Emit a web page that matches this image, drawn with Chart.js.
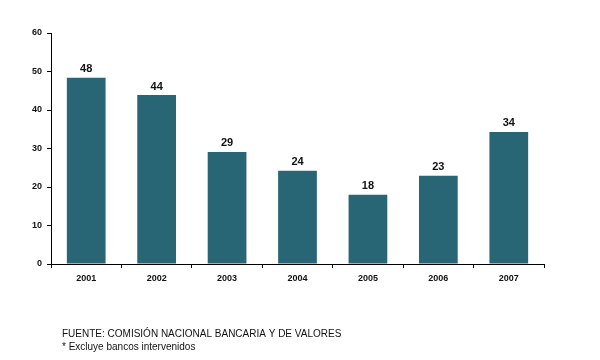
<!DOCTYPE html>
<html>
  <head>
    <meta charset="utf-8">
    <script src="https://cdn.jsdelivr.net/npm/chart.js@4"></script>
    <style>
      body { margin: 0; background: #fff; }
    </style>
  </head>
  <body>
    <div style="width: 600px; height: 360px">
      <canvas id="canvas"></canvas>
    </div>
    <script>
      const years = ['2001', '2002', '2003', '2004', '2005', '2006', '2007'];
      const values = [48.4, 43.9, 29.1, 24.2, 18.0, 22.9, 34.3];
      const footerLines = ['FUENTE: COMISIÓN NACIONAL BANCARIA Y DE VALORES', '* Excluye bancos intervenidos'];

      const valueLabels = {
        id: 'valueLabels',
        afterDatasetsDraw(chart) {
          const ctx = chart.ctx;
          const meta = chart.getDatasetMeta(0);
          ctx.save();
          ctx.font = 'bold 11px "Liberation Sans", Arial, sans-serif';
          ctx.fillStyle = '#111';
          ctx.textAlign = 'center';
          ctx.textBaseline = 'bottom';
          meta.data.forEach((bar, i) => {
            ctx.fillText(Math.round(values[i]), bar.x, bar.y - 3);
          });
          ctx.restore();
        },
      };

      const footer = {
        id: 'footer',
        afterDraw(chart) {
          const ctx = chart.ctx;
          ctx.save();
          ctx.font = '10px "Liberation Sans", Arial, sans-serif';
          ctx.fillStyle = '#111';
          ctx.textAlign = 'left';
          ctx.textBaseline = 'middle';
          ctx.fillText(footerLines[0], 62, 334);
          ctx.fillText(footerLines[1], 62, 347);
          ctx.restore();
        },
      };

      new Chart(document.getElementById('canvas').getContext('2d'), {
        type: 'bar',
        data: {
          labels: years,
          datasets: [
            {
              data: values,
              backgroundColor: '#296675',
              categoryPercentage: 1,
              barPercentage: 0.55,
            },
          ],
        },
        options: {
          responsive: true,
          maintainAspectRatio: false,
          animation: false,
          layout: { padding: { top: 33, right: 56, left: 0, bottom: 0 } },
          plugins: {
            legend: { display: false },
            tooltip: { enabled: false },
          },
          scales: {
            x: {
              grid: { offset: true, drawOnChartArea: false, color: '#000', tickLength: 4 },
              border: { color: '#000', width: 1 },
              ticks: {
                color: '#111',
                padding: 5,
                font: { family: '"Liberation Sans", Arial, sans-serif', size: 9, weight: 'bold' },
              },
              afterFit(scale) { scale.height = 96; },
            },
            y: {
              min: 0,
              max: 60,
              ticks: {
                stepSize: 10,
                color: '#111',
                padding: 5,
                font: { family: '"Liberation Sans", Arial, sans-serif', size: 9, weight: 'bold' },
              },
              grid: { drawOnChartArea: false, color: '#000', tickLength: 4 },
              border: { color: '#000', width: 1 },
              afterFit(scale) { scale.width = 51; },
            },
          },
        },
        plugins: [valueLabels, footer],
      });
    </script>
  </body>
</html>
